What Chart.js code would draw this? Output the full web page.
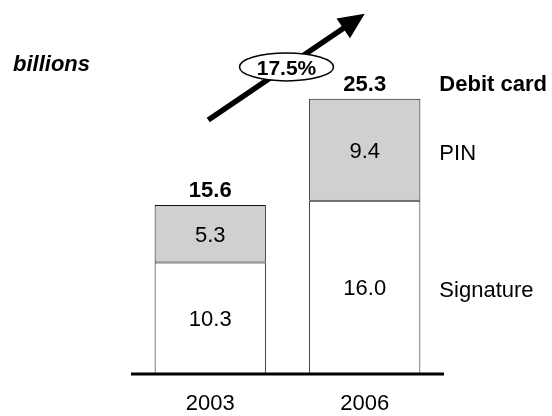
<!DOCTYPE html>
<html>
<head>
<meta charset="utf-8">
<script src="https://cdn.jsdelivr.net/npm/chart.js@4.4.1/dist/chart.umd.min.js"></script>
<style>
  html, body { margin: 0; padding: 0; background: #fff; }
  #wrap { width: 552px; height: 416px; }
</style>
</head>
<body>
<div id="wrap"><canvas id="chart" width="552" height="416"></canvas></div>
<script>
// Chart values
const years = ['2003', '2006'];
const signature = [10.3, 16.0];
const pin = [5.3, 9.4];
const totals = [15.6, 25.3];
const seriesNames = ['Signature', 'PIN'];
const totalName = 'Debit card';
const unitLabel = 'billions';
const growthLabel = '17.5%';

const FONT = '"Liberation Sans", Arial, Helvetica, sans-serif';

// Draws labels, baseline, legend text and the growth arrow
const overlayPlugin = {
  id: 'overlay',
  afterDatasetsDraw(chart) {
    const ctx = chart.ctx;
    const area = chart.chartArea;
    const sig = chart.getDatasetMeta(0).data;
    const pn = chart.getDatasetMeta(1).data;
    ctx.save();
    ctx.fillStyle = '#000';
    ctx.textAlign = 'center';
    ctx.textBaseline = 'alphabetic';

    // segment values
    ctx.font = '22px ' + FONT;
    [sig, pn].forEach((bars, d) => {
      const vals = d === 0 ? signature : pin;
      bars.forEach((b, i) => {
        const mid = (b.y + b.base) / 2;
        ctx.fillText(vals[i].toFixed(1), b.x, mid + 8);
      });
    });

    // totals
    ctx.font = 'bold 22px ' + FONT;
    pn.forEach((b, i) => {
      ctx.fillText(totals[i].toFixed(1), b.x, b.y - 8);
    });

    // year labels
    ctx.font = '22px ' + FONT;
    sig.forEach((b, i) => {
      ctx.fillText(years[i], b.x, b.base + 36);
    });

    // baseline
    ctx.strokeStyle = '#000';
    ctx.lineWidth = 3;
    ctx.beginPath();
    ctx.moveTo(area.left - 2, area.bottom);
    ctx.lineTo(area.right + 2, area.bottom);
    ctx.stroke();

    // legend text at right of last bar
    const last = years.length - 1;
    const lx = pn[last].x + pn[last].width / 2 + 19;
    ctx.textAlign = 'left';
    ctx.font = '22px ' + FONT;
    const sb = sig[last];
    ctx.fillText(seriesNames[0], lx, (sb.y + sb.base) / 2 + 10);
    const pb = pn[last];
    ctx.fillText(seriesNames[1], lx, (pb.y + pb.base) / 2 + 10);
    ctx.font = 'bold 22px ' + FONT;
    ctx.fillText(totalName, lx, pb.y - 8);

    // unit label
    ctx.font = 'italic bold 22px ' + FONT;
    ctx.fillText(unitLabel, 13, 71);

    // growth arrow
    const x0 = pn[0].x - 2, y0 = pn[0].y - 85;
    const x1 = pn[last].x, y1 = pn[last].y - 85;
    const len = Math.hypot(x1 - x0, y1 - y0);
    const ux = (x1 - x0) / len, uy = (y1 - y0) / len;
    const nx = -uy, ny = ux;
    ctx.lineWidth = 5.5;
    ctx.lineCap = 'butt';
    ctx.beginPath();
    ctx.moveTo(x0, y0);
    ctx.lineTo(x1 - ux * 16, y1 - uy * 16);
    ctx.stroke();
    ctx.beginPath();
    ctx.moveTo(x1, y1);
    ctx.lineTo(x1 - ux * 26 + nx * 12, y1 - uy * 26 + ny * 12);
    ctx.lineTo(x1 - ux * 26 - nx * 12, y1 - uy * 26 - ny * 12);
    ctx.closePath();
    ctx.fill();

    // growth ellipse
    const cx = (x0 + x1) / 2, cy = (y0 + y1) / 2;
    ctx.beginPath();
    ctx.ellipse(cx, cy, 47, 14, 0, 0, Math.PI * 2);
    ctx.fillStyle = '#fff';
    ctx.fill();
    ctx.lineWidth = 1.5;
    ctx.stroke();
    ctx.fillStyle = '#000';
    ctx.textAlign = 'center';
    ctx.font = 'bold 21px ' + FONT;
    ctx.fillText(growthLabel, cx, cy + 8);

    ctx.restore();
  }
};

new Chart(document.getElementById('chart'), {
  type: 'bar',
  plugins: [overlayPlugin],
  data: {
    labels: years,
    datasets: [
      {
        label: seriesNames[0],
        data: signature,
        backgroundColor: '#ffffff',
        borderColor: '#111',
        borderWidth: 1,
        borderSkipped: false
      },
      {
        label: seriesNames[1],
        data: pin,
        backgroundColor: '#d0d0d0',
        borderColor: '#111',
        borderWidth: 1,
        borderSkipped: false
      }
    ]
  },
  options: {
    responsive: false,
    animation: false,
    events: [],
    layout: {
      padding: { left: 133, right: 110, top: 49, bottom: 42 }
    },
    datasets: {
      bar: {
        categoryPercentage: 1,
        barPercentage: 0.72
      }
    },
    scales: {
      x: { stacked: true, display: false },
      y: { stacked: true, display: false, min: 0, max: 30 }
    },
    plugins: {
      legend: { display: false },
      tooltip: { enabled: false }
    }
  }
});
</script>
</body>
</html>
